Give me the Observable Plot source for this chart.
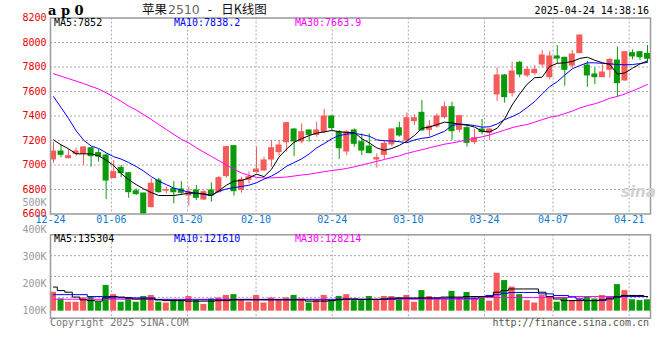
<!DOCTYPE html>
<html><head><meta charset="utf-8">
<script src="https://cdn.jsdelivr.net/npm/d3@7"></script>
<script src="https://cdn.jsdelivr.net/npm/@observablehq/plot@0.6"></script>
<style>
body{margin:0;background:#fff;}
#wrap{position:relative;width:660px;height:360px;overflow:hidden;font-family:"DejaVu Sans Mono",monospace;}
#wrap svg{position:absolute;left:0;top:0;}
.t{position:absolute;white-space:pre;font-size:10px;line-height:10px;font-family:"DejaVu Sans Mono",monospace;}
</style></head><body><div id="wrap"></div>
<script>
// ---------- DATA ----------
const dates = ["12-24","12-25","12-26","12-27","12-30","12-31","01-02","01-03","01-06","01-07","01-08","01-09","01-10","01-13","01-14","01-15","01-16","01-17","01-20","01-21","01-22","01-23","01-24","01-27","02-05","02-06","02-07","02-10","02-11","02-12","02-13","02-14","02-17","02-18","02-19","02-20","02-21","02-24","02-25","02-26","02-27","02-28","03-03","03-04","03-05","03-06","03-07","03-10","03-11","03-12","03-13","03-14","03-17","03-18","03-19","03-20","03-21","03-24","03-25","03-26","03-27","03-28","03-31","04-01","04-02","04-03","04-07","04-08","04-09","04-10","04-11","04-14","04-15","04-16","04-17","04-18","04-21","04-22","04-23","04-24"];
const open  = [7045,7110,7056,7091,7091,7137,7097,7078,6893,6977,6933,6786,6767,6656,6873,6790,6805,6800,6751,6792,6718,6792,6778,6909,7154,6797,6879,6942,6955,7045,7105,7186,7290,7192,7282,7246,7268,7396,7268,7110,7282,7186,7151,7045,7083,7168,7300,7200,7358,7426,7287,7314,7390,7472,7287,7301,7186,7290,7263,7576,7731,7586,7834,7731,7750,7820,7717,7886,7875,7812,7913,7812,7739,7717,7777,7853,7690,7913,7921,7907];
const high  = [7186,7159,7124,7137,7151,7140,7127,7091,7037,6996,6940,6805,6770,6887,6890,6819,6865,6865,6819,6833,6792,6854,6906,7154,7156,6900,6942,7146,7064,7200,7200,7345,7295,7336,7285,7350,7453,7400,7282,7282,7295,7254,7254,7091,7200,7295,7350,7426,7410,7527,7363,7418,7513,7513,7405,7323,7290,7372,7295,7793,7739,7840,7845,7804,7812,7935,7926,7976,7880,7935,8060,7845,7793,7818,7872,7962,7926,7940,7926,7976];
const low   = [7015,7059,7050,7072,6996,6982,7023,6718,6890,6895,6729,6751,6593,6650,6770,6765,6683,6751,6664,6710,6710,6697,6770,6893,6746,6770,6846,6933,6950,6982,7064,7105,7069,7173,7186,7227,7254,7282,7045,7077,7146,7077,7091,6974,7045,7146,7227,7186,7323,7276,7227,7300,7377,7200,7262,7146,7165,7246,7200,7518,7505,7554,7712,7712,7731,7793,7695,7826,7643,7790,7910,7635,7657,7712,7709,7554,7684,7859,7853,7840];
const close = [7110,7083,7072,7110,7143,7072,7069,6873,6942,6933,6778,6762,6601,6847,6778,6795,6778,6773,6778,6732,6778,6751,6893,7146,6786,6879,6900,6963,7037,7137,7159,7342,7192,7268,7246,7282,7396,7301,7137,7268,7173,7118,7097,7056,7173,7290,7241,7382,7382,7282,7314,7396,7472,7276,7399,7181,7219,7268,7290,7731,7554,7763,7739,7777,7777,7894,7886,7869,7777,7902,8057,7731,7717,7755,7858,7668,7921,7886,7880,7867];
const ma5  = [7205,7165,7132,7091,7091,7091,7075,7040,6995,6930,6880,6840,6805,6775,6751,6751,6751,6760,6770,6770,6765,6751,6790,6835,6868,6873,6895,6925,6905,6965,7065,7130,7185,7215,7240,7260,7270,7282,7272,7265,7265,7215,7180,7140,7120,7135,7160,7195,7241,7300,7310,7330,7350,7344,7332,7325,7310,7275,7270,7300,7377,7490,7580,7660,7712,7717,7805,7830,7834,7845,7870,7880,7855,7835,7820,7742,7752,7790,7825,7850];
const ma10 = [7558,7470,7380,7280,7203,7155,7135,7100,7068,7048,7020,6988,6950,6905,6868,6840,6812,6795,6778,6770,6760,6751,6785,6805,6815,6825,6835,6855,6885,6910,6945,6990,7020,7050,7090,7140,7175,7214,7240,7252,7258,7248,7235,7205,7198,7196,7190,7182,7205,7218,7225,7250,7275,7322,7334,7330,7322,7309,7312,7335,7370,7395,7425,7470,7518,7580,7640,7680,7735,7785,7812,7834,7834,7830,7826,7820,7818,7820,7828,7838];
const ma30 = [7745,7725,7705,7685,7665,7642,7620,7590,7555,7520,7480,7450,7410,7372,7330,7290,7250,7210,7180,7140,7105,7070,7035,7000,6965,6935,6915,6900,6895,6895,6898,6902,6910,6918,6925,6935,6945,6955,6962,6972,6985,7000,7015,7030,7045,7060,7075,7095,7110,7125,7140,7155,7170,7180,7192,7205,7218,7230,7245,7265,7285,7305,7320,7330,7350,7370,7390,7400,7420,7440,7465,7485,7500,7520,7545,7560,7580,7605,7630,7658];
const volume = [170,145,133,133,149,154,133,195,161,133,149,133,154,158,133,130,139,139,154,139,125,145,149,158,161,139,133,158,130,149,139,149,158,145,130,139,158,139,154,161,139,139,154,139,154,154,149,158,133,176,154,145,145,173,149,169,149,154,137,240,213,189,161,139,130,158,149,133,149,139,145,154,145,158,149,198,176,142,139,142].map(v => v * 1000);
const vma5  = [189,176,170,152,142,139,137,149,154,152,149,145,145,145,142,139,139,139,137,137,137,137,139,139,142,142,142,142,142,142,142,142,142,142,137,137,137,139,142,145,145,143,143,143,145,148,148,148,148,149,149,149,152,152,152,154,154,154,154,170,176,182,182,182,182,170,154,145,139,139,139,139,139,142,145,152,158,158,158,154].map(v => v * 1000);
const vma10 = [161,161,161,161,161,154,154,154,149,149,149,149,149,149,142,142,142,142,142,142,142,142,142,142,142,142,142,142,142,142,142,142,142,142,142,142,142,142,144,144,144,144,144,144,144,144,148,148,148,148,148,148,148,148,148,148,148,154,158,161,166,169,169,169,169,164,164,158,158,152,145,139,139,139,149,154,154,154,154,154].map(v => v * 1000);
const vma30 = [144,144,144,144,144,144,144,144,144,144,144,144,144,144,144,144,144,144,144,144,144,144,144,144,144,144,144,144,144,144,144,144,144,144,144,144,144,144,144,144,144,144,144,144,144,144,144,144,144,144,144,144,144,144,144,144,144,150,150,150,150,150,150,150,150,150,150,150,150,154,154,154,154,154,154,154,154,154,154,154].map(v => v * 1000);
const tickDates = ["12-24","01-06","01-20","02-10","02-24","03-10","03-24","04-07","04-21"];
const priceTicks = [8200,8000,7800,7600,7400,7200,7000,6800,6600];
const volTicks = [100000,200000,300000,400000,500000];
const mainLegend = [["MA5", "7852"], ["MA10", "7838.2"], ["MA30", "7663.9"]];
const volLegend = [["MA5", "135304"], ["MA10", "121610"], ["MA30", "128214"]];
const titleParts = ["苹果", "2510", "-", "日K线图"];
const stamp = "2025-04-24 14:38:16";

// ---------- STYLE ----------
const RED = "#f65b5b", GREEN = "#089a08", GRID = "#aaaaaa";
const lineColors = ["#000000", "#0000ff", "#ff00ff"];
const N = dates.length;
const xDomain = [-0.4, N - 0.6];
const gridX = d => dates.indexOf(d) * N / (N - 1) - 0.4;
const candles = dates.map((d, i) => ({i, o: open[i], h: high[i], l: low[i], c: close[i], col: close[i] >= open[i] ? RED : GREEN, v: volume[i]}));
const series = (arr) => arr.map((v, i) => ({i, v}));
const font = {fontFamily: "DejaVu Sans Mono", fontSize: 10};

const main = Plot.plot({
  width: 660, height: 360, marginLeft: 50, marginRight: 10, marginTop: 17.5, marginBottom: 146.5,
  x: {domain: xDomain, axis: null},
  y: {domain: [6600, 8200], axis: null},
  style: {background: "transparent", overflow: "visible"},
  marks: [
    Plot.ruleY(priceTicks.slice(1, -1), {stroke: GRID, strokeDasharray: "2,2"}),
    Plot.ruleX(tickDates.slice(1), {x: gridX, stroke: GRID, strokeDasharray: "2,2"}),
    Plot.ruleX(candles, {x: "i", y1: "l", y2: "h", stroke: "col"}),
    Plot.rect(candles, {x1: d => d.i - 0.4, x2: d => d.i + 0.4, y1: "o", y2: "c", fill: "col", insetTop: -0.5, insetBottom: -0.5}),
    Plot.line(series(ma30), {x: "i", y: "v", stroke: lineColors[2], strokeWidth: 1}),
    Plot.line(series(ma10), {x: "i", y: "v", stroke: lineColors[1], strokeWidth: 1}),
    Plot.line(series(ma5), {x: "i", y: "v", stroke: lineColors[0], strokeWidth: 1}),
    Plot.frame({stroke: "#9a9a9a", strokeWidth: 1.5}),
    Plot.text(priceTicks, {frameAnchor: "left", y: d => d, text: d => String(d), textAnchor: "end", dx: -4, fill: "#e80000", ...font}),
    Plot.text(tickDates, {x: gridX, frameAnchor: "bottom", dy: 9, text: d => d, fill: "#0a78d0", ...font})
  ]
});

const volDomain = [74000, 382000];
const volGrid = [1, 2, 3].map(k => volDomain[0] + k * (volDomain[1] - volDomain[0]) / 4);
const vol = Plot.plot({
  width: 660, height: 360, marginLeft: 50, marginRight: 10, marginTop: 234.3, marginBottom: 42.3,
  x: {domain: xDomain, axis: null},
  y: {domain: volDomain, axis: null},
  style: {background: "transparent", overflow: "visible"},
  marks: [
    Plot.ruleY(volGrid, {stroke: GRID, strokeDasharray: "2,2"}),
    Plot.ruleX(tickDates.slice(1), {x: gridX, stroke: GRID, strokeDasharray: "2,2"}),
    Plot.rect(candles, {x1: d => d.i - 0.4, x2: d => d.i + 0.4, y1: 100000, y2: "v", fill: "col"}),
    Plot.line(series(vma30), {x: "i", y: "v", stroke: lineColors[2], strokeWidth: 1, curve: "step"}),
    Plot.line(series(vma10), {x: "i", y: "v", stroke: lineColors[1], strokeWidth: 1, curve: "step"}),
    Plot.line(series(vma5), {x: "i", y: "v", stroke: lineColors[0], strokeWidth: 1, curve: "step"}),
    Plot.frame({stroke: "#9a9a9a", strokeWidth: 1.5}),
    Plot.text(volTicks, {frameAnchor: "left", y: d => d, text: d => d / 1000 + "K", textAnchor: "end", dx: -4, fill: "#9a9a9a", ...font})
  ]
});

const wrap = document.getElementById("wrap");
wrap.appendChild(main);
wrap.appendChild(vol);

function addText(txt, css) {
  const s = document.createElement("span");
  s.className = "t";
  s.textContent = txt;
  Object.assign(s.style, css);
  wrap.appendChild(s);
  return s;
}
addText("ap0", {left: "48px", top: "4px", fontSize: "13px", lineHeight: "13px", fontWeight: "bold", letterSpacing: "4.5px", fontFamily: "DejaVu Serif"});
const title = document.createElement("span");
title.className = "t";
Object.assign(title.style, {left: "142px", top: "2px", fontSize: "12.5px", lineHeight: "13px", fontFamily: "'Noto Sans CJK SC', sans-serif", color: "#111"});
title.innerHTML = `<span>${titleParts[0]}</span><span style="color:#666;font-family:'DejaVu Sans';margin-left:1px">${titleParts[1]}</span><span style="margin:0 9px 0 8px">${titleParts[2]}</span><span>${titleParts[3]}</span>`;
wrap.appendChild(title);
addText(stamp, {right: "11px", top: "6px", color: "#000"});
const legX = [54, 174, 295];
mainLegend.forEach((d, k) => addText(`${d[0]}:${d[1]}`, {left: legX[k] + "px", top: "18px", color: lineColors[k]}));
volLegend.forEach((d, k) => addText(`${d[0]}:${d[1]}`, {left: legX[k] + "px", top: "234px", color: lineColors[k]}));
addText("Copyright 2025 SINA.COM", {left: "50px", top: "318px", color: "#777"});
addText("http://finance.sina.com.cn", {right: "11px", top: "318px", color: "#555"});
addText("sina", {left: "621px", top: "185px", fontSize: "15px", lineHeight: "15px", fontWeight: "bold", fontStyle: "italic", color: "#d2d2d2", fontFamily: "DejaVu Sans"});
</script>
</body></html>
